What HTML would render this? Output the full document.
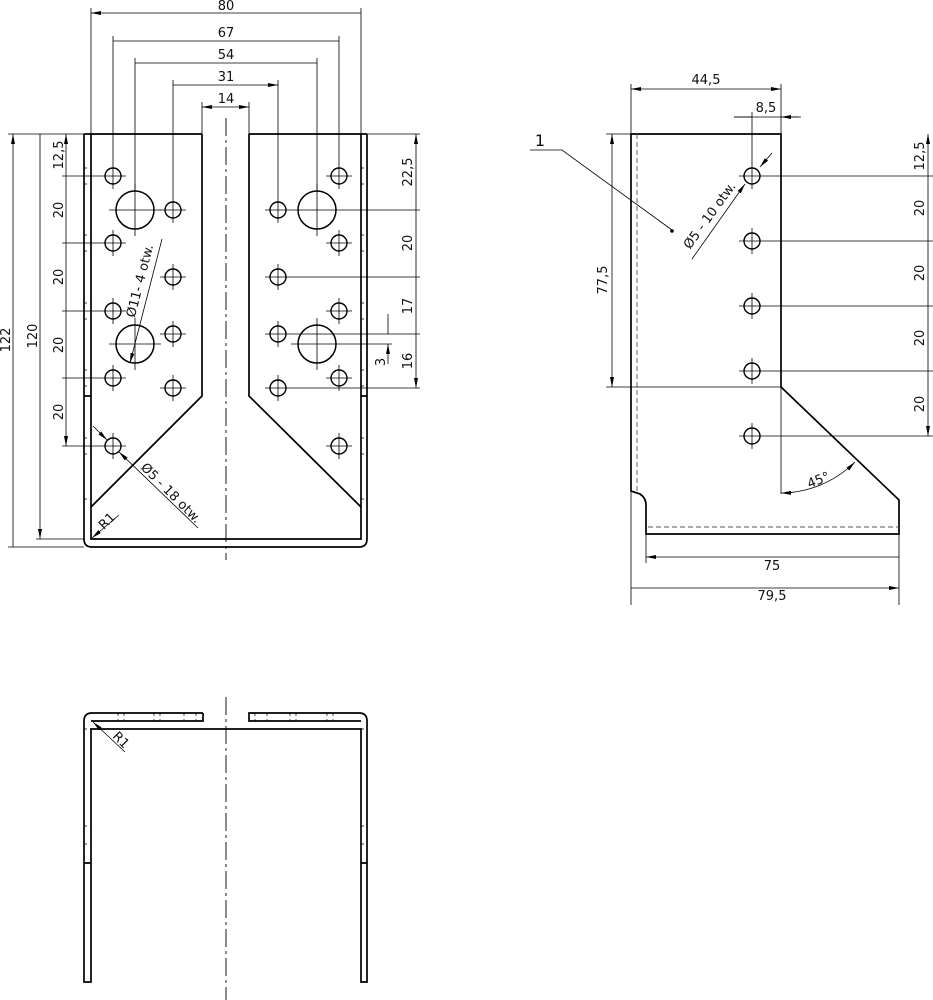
<!DOCTYPE html>
<html><head><meta charset="utf-8"><style>
html,body{margin:0;padding:0;background:#fff}
svg{display:block}
text{font-family:"DejaVu Sans","Liberation Sans",sans-serif;font-size:13px;fill:#111}
</style></head><body>
<svg width="933" height="1000" viewBox="0 0 933 1000" xmlns="http://www.w3.org/2000/svg">
<defs>
<marker id="a" viewBox="0 0 10 4" refX="10" refY="2" markerWidth="10" markerHeight="4" markerUnits="userSpaceOnUse" orient="auto-start-reverse"><path d="M0,0 L10,2 L0,4z" fill="#000"/></marker>
<g id="h"><circle r="8" fill="none" stroke="#000" stroke-width="1.4"/><path d="M-13,0H13M0,-13V13" stroke="#000" stroke-width="0.8"/></g>
<g id="H"><circle r="19" fill="none" stroke="#000" stroke-width="1.5"/><path d="M-26,0H26M0,-26V26" stroke="#000" stroke-width="0.8"/></g>
</defs>

<!-- ===== FRONT VIEW ===== -->
<g fill="none" stroke="#000" stroke-width="1.7">
<path d="M202,134 H91 V539 H361 V134 H249"/>
<path d="M202,134 V396 L91,507 M249,134 V396 L361,507"/>
<path d="M84,134 V539 Q84,547 92,547 H359 Q367,547 367,539 V134"/>
<path d="M84,134 H91 M361,134 H367 M84,396 H91 M361,396 H367"/>
</g>
<g stroke="#000" stroke-width="0.7" stroke-dasharray="3,3">
<path d="M84,168H91M84,184H91M84,235H91M84,251H91M84,303H91M84,319H91M84,370H91M84,386H91M84,438H91M84,454H91M84,499H91"/>
<path d="M361,168H367M361,184H367M361,235H367M361,251H367M361,303H367M361,319H367M361,370H367M361,386H367M361,438H367M361,454H367M361,499H367"/>
</g>
<path d="M226,118V560" stroke="#000" stroke-width="0.9" stroke-dasharray="18,4,3,4"/>
<use href="#h" x="113" y="176"/><use href="#h" x="113" y="243"/><use href="#h" x="113" y="311"/><use href="#h" x="113" y="378"/><use href="#h" x="113" y="446"/>
<use href="#h" x="173" y="210"/><use href="#h" x="173" y="277"/><use href="#h" x="173" y="334"/><use href="#h" x="173" y="388"/>
<use href="#H" x="135" y="210"/><use href="#H" x="135" y="344"/>
<use href="#h" x="278" y="210"/><use href="#h" x="278" y="277"/><use href="#h" x="278" y="334"/><use href="#h" x="278" y="388"/>
<use href="#H" x="317" y="210"/><use href="#H" x="317" y="344"/>
<use href="#h" x="339" y="176"/><use href="#h" x="339" y="243"/><use href="#h" x="339" y="311"/><use href="#h" x="339" y="378"/><use href="#h" x="339" y="446"/>

<g stroke="#000" stroke-width="0.8" fill="none">
<path d="M91,8V134M361,8V134M113,36V163M339,36V163M135,58V191M317,58V191M173,80V197M278,80V197M202,102V134M249,102V134"/>
<path d="M91,13H361M113,41H339M135,63H317M173,85H278" marker-start="url(#a)" marker-end="url(#a)"/>
<path d="M202,107H249" marker-start="url(#a)" marker-end="url(#a)"/>
<path d="M8,134H84M8,547H84M36,539H84M62,176H100M62,243H100M62,311H100M62,378H100M62,446H100"/>
<path d="M13,134V547M40,134V539" marker-start="url(#a)" marker-end="url(#a)"/>
<path d="M66,134V176M66,176V243M66,243V311M66,311V378M66,378V446" marker-start="url(#a)" marker-end="url(#a)"/>
<path d="M367,134H420M343,210H420M291,277H420M291,334H420M343,344H392M291,388H420"/>
<path d="M416,134V210M416,210V277M416,277V334M416,334V388" marker-start="url(#a)" marker-end="url(#a)"/>
<path d="M388,314V334M388,364V344" marker-end="url(#a)"/>
<path d="M162,239L130,363" marker-end="url(#a)"/>
<path d="M93,426L107,440" marker-end="url(#a)"/>
<path d="M198,528L119,452" marker-end="url(#a)"/>
<path d="M119,515L92,538" marker-end="url(#a)"/>
</g>
<text x="226" y="10" text-anchor="middle">80</text>
<text x="226" y="37" text-anchor="middle">67</text>
<text x="226" y="59" text-anchor="middle">54</text>
<text x="226" y="81" text-anchor="middle">31</text>
<text x="226" y="103" text-anchor="middle">14</text>
<text transform="translate(10,340) rotate(-90)" text-anchor="middle">122</text>
<text transform="translate(37,336) rotate(-90)" text-anchor="middle">120</text>
<text transform="translate(63,155) rotate(-90)" text-anchor="middle">12,5</text>
<text transform="translate(63,210) rotate(-90)" text-anchor="middle">20</text>
<text transform="translate(63,277) rotate(-90)" text-anchor="middle">20</text>
<text transform="translate(63,345) rotate(-90)" text-anchor="middle">20</text>
<text transform="translate(63,412) rotate(-90)" text-anchor="middle">20</text>
<text transform="translate(412,172) rotate(-90)" text-anchor="middle">22,5</text>
<text transform="translate(412,243) rotate(-90)" text-anchor="middle">20</text>
<text transform="translate(412,306) rotate(-90)" text-anchor="middle">17</text>
<text transform="translate(412,361) rotate(-90)" text-anchor="middle">16</text>
<text transform="translate(385,362) rotate(-90)" text-anchor="middle">3</text>
<text transform="translate(144,282) rotate(-75.5)" text-anchor="middle">Ø11- 4 otw.</text>
<text transform="translate(168,496) rotate(45)" text-anchor="middle">Ø5 - 18 otw.</text>
<text transform="translate(110,524) rotate(-45)" text-anchor="middle">R1</text>

<!-- ===== SIDE VIEW ===== -->
<g fill="none" stroke="#000" stroke-width="1.7">
<path d="M631,134 V491 L640,494 Q646,498 646,505 V534 H899 V500 L781,387 V134 Z"/>
</g>
<g fill="none" stroke="#555" stroke-width="0.9" stroke-dasharray="5,3">
<path d="M637,134V494M648,527H899"/>
</g>
<use href="#h" x="752" y="176"/><use href="#h" x="752" y="241"/><use href="#h" x="752" y="306"/><use href="#h" x="752" y="371"/><use href="#h" x="752" y="436"/>
<g stroke="#000" stroke-width="0.8" fill="none">
<path d="M631,84V605M781,84V134M752,112V163M646,534V563M899,534V605"/>
<path d="M631,89H781" marker-start="url(#a)" marker-end="url(#a)"/>
<path d="M734,117H752M799,117H781" marker-end="url(#a)"/>
<path d="M734,117H801"/>
<path d="M606,134H631M606,387H781M765,176H933M765,241H933M765,306H933M765,371H933M765,436H933"/>
<path d="M612,134V387" marker-start="url(#a)" marker-end="url(#a)"/>
<path d="M928,134V176M928,176V241M928,241V306M928,306V371M928,371V436" marker-start="url(#a)" marker-end="url(#a)"/>
<path d="M646,557H899M631,588H899" marker-start="url(#a)" marker-end="url(#a)"/>
<path d="M781,387V494"/>
<path d="M781,493 A107,107 0 0 0 855,462" marker-start="url(#a)" marker-end="url(#a)"/>
<path d="M530,150H562L672,230"/>
<path d="M692,259L745,184" marker-end="url(#a)"/>
<path d="M772,153L760,167" marker-end="url(#a)"/>
</g>
<circle cx="672" cy="231" r="1.8" fill="#000"/>
<text x="706" y="84" text-anchor="middle">44,5</text>
<text x="766" y="112" text-anchor="middle">8,5</text>
<text x="540" y="146" text-anchor="middle" style="font-size:16px">1</text>
<text transform="translate(607,280) rotate(-90)" text-anchor="middle">77,5</text>
<text transform="translate(924,156) rotate(-90)" text-anchor="middle">12,5</text>
<text transform="translate(924,208) rotate(-90)" text-anchor="middle">20</text>
<text transform="translate(924,273) rotate(-90)" text-anchor="middle">20</text>
<text transform="translate(924,338) rotate(-90)" text-anchor="middle">20</text>
<text transform="translate(924,404) rotate(-90)" text-anchor="middle">20</text>
<text x="772" y="570" text-anchor="middle">75</text>
<text x="772" y="600" text-anchor="middle">79,5</text>
<text transform="translate(820,484) rotate(-22)" text-anchor="middle">45°</text>
<text transform="translate(713,218) rotate(-54)" text-anchor="middle">Ø5 - 10 otw.</text>

<!-- ===== BOTTOM VIEW ===== -->
<g fill="none" stroke="#000" stroke-width="1.7">
<path d="M203,713 H92 Q84,713 84,721 V982 H91 V729 H361 V982 H367 V721 Q367,713 359,713 H249 V721 H361 M203,713 V721 H91"/>
<path d="M84,863H91M361,863H367"/>
</g>
<g stroke="#000" stroke-width="0.7" stroke-dasharray="3,3">
<path d="M118,713V721M124,713V721M154,713V721M160,713V721M184,713V721M196,713V721M255,713V721M267,713V721M290,713V721M296,713V721M327,713V721M333,713V721"/>
<path d="M84,826H91M84,844H91M361,826H367M361,844H367M84,729H91M361,729H367"/>
</g>
<path d="M226,697V1000" stroke="#000" stroke-width="0.9" stroke-dasharray="18,4,3,4"/>
<g stroke="#000" stroke-width="0.8" fill="none"><path d="M125,752L93,722" marker-end="url(#a)"/></g>
<text transform="translate(118,743) rotate(45)" text-anchor="middle">R1</text>
</svg>
</body></html>
